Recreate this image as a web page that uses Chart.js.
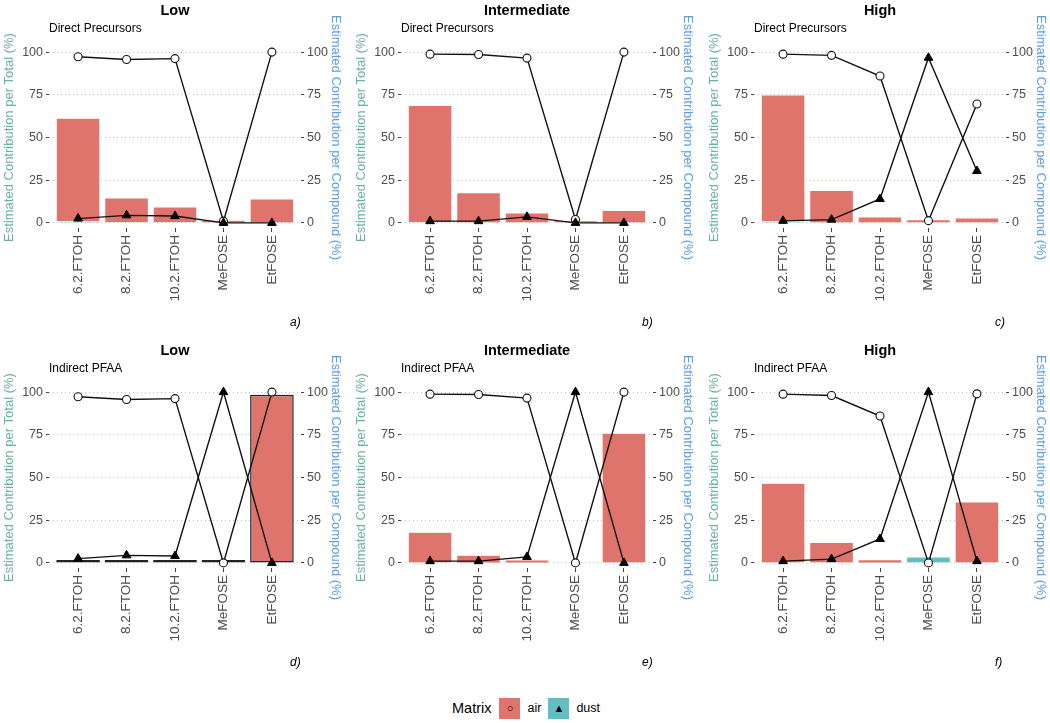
<!DOCTYPE html>
<html>
<head>
<meta charset="utf-8">
<script src="https://cdn.jsdelivr.net/npm/chart.js@4.4.1/dist/chart.umd.min.js"></script>
<style>
  body { margin: 0; background: #fff; width: 1050px; height: 723px; overflow: hidden; position: relative; font-family: "Liberation Sans", Arial, sans-serif; }
  canvas { position: absolute; }
  .legend { position: absolute; top: 697px; left: 452px; height: 22px; display: flex; align-items: center; color: #000; }
  .legend .ttl { font-size: 14.5px; margin-right: 8px; }
  .legend .key { width: 21px; height: 21px; display: flex; align-items: center; justify-content: center; font-size: 11px; color: #000; }
  .legend .lbl { font-size: 12.5px; margin: 0 7px 0 7px; }
</style>
</head>
<body>
<canvas id="pa" width="345" height="340" style="left:0;top:0"></canvas>
<canvas id="pb" width="345" height="340" style="left:352px;top:0"></canvas>
<canvas id="pc" width="345" height="340" style="left:705px;top:0"></canvas>
<canvas id="pd" width="345" height="340" style="left:0;top:340px"></canvas>
<canvas id="pe" width="345" height="340" style="left:352px;top:340px"></canvas>
<canvas id="pf" width="345" height="340" style="left:705px;top:340px"></canvas>
<div class="legend">
  <span class="ttl">Matrix</span>
  <span class="key" style="background:#de746b">&#9675;</span><span class="lbl">air</span>
  <span class="key" style="background:#62bec3">&#9650;</span><span class="lbl">dust</span>
</div>
<script>
const compounds = ['6.2.FTOH', '8.2.FTOH', '10.2.FTOH', 'MeFOSE', 'EtFOSE'];
const yTicks = [0, 25, 50, 75, 100];

// bars: Estimated Contribution per Total (%)
const directLowAir = [60.3, 14.3, 9, 1.5, 14];
const directLowDust = [1, 0.3, 0.3, 0, 0];
const directMidAir = [68.2, 17.5, 5.6, 1.3, 7.2];
const directMidDust = [0.5, 0.2, 0.2, 0, 0];
const directHighAir = [74.1, 18.8, 3.3, 1.9, 2.9];
const directHighDust = [0.8, 0.2, 0.2, 0, 0];
const indirectLowAir = [0.8, 0.5, 0.5, 0.3, 98.5];
const indirectLowDust = [0, 0, 0, 0, 0];
const indirectMidAir = [17.8, 4.3, 1.6, 0, 75.9];
const indirectMidDust = [0.2, 0.1, 0.1, 0, 0];
const indirectHighAir = [46.5, 11.8, 1.8, 0, 35.6];
const indirectHighDust = [0.2, 0.2, 0.1, 3.5, 0];

// lines: Estimated Contribution per Compound (%)
const directLowAirPct = [97.3, 95.7, 96.2, 1, 100];
const directLowDustPct = [2.5, 4.4, 4, 0, 0];
const directMidAirPct = [98.8, 98.6, 96.5, 2, 100];
const directMidDustPct = [1, 1, 3.5, 0, 0];
const directHighAirPct = [98.8, 98.1, 86, 1.3, 69.6];
const directHighDustPct = [1.2, 1.9, 14, 96.7, 30.4];
const indirectLowAirPct = [97.3, 95.7, 96.2, 0, 100];
const indirectLowDustPct = [2.5, 4.4, 4, 100, 0];
const indirectMidAirPct = [98.8, 98.6, 96.5, 0, 100];
const indirectMidDustPct = [1, 1, 3.5, 100, 0];
const indirectHighAirPct = [98.8, 98, 86, 0, 99];
const indirectHighDustPct = [1, 2.2, 14, 100, 1];

Chart.defaults.font.family = '"Liberation Sans", Arial, sans-serif';

const panelText = {
    id: 'panelText',
    afterDraw(chart, args, opts) {
        const { ctx, chartArea } = chart;
        ctx.save();
        ctx.fillStyle = '#000';
        ctx.textBaseline = 'middle';
        ctx.textAlign = 'center';
        ctx.font = 'bold 14.5px "Liberation Sans", Arial, sans-serif';
        ctx.fillText(opts.title, (chartArea.left + chartArea.right) / 2, 11);
        ctx.textAlign = 'left';
        ctx.font = '12px "Liberation Sans", Arial, sans-serif';
        ctx.fillText(opts.subtitle, chartArea.left, 29);
        ctx.font = 'italic 12px "Liberation Sans", Arial, sans-serif';
        ctx.fillText(opts.tag, chartArea.right - 11, 323);
        ctx.restore();
    }
};

const toPoints = arr => arr.map((v, i) => ({ x: i, y: v }));

function desenharPainel(id, title, subtitle, tag, air, dust, airPct, dustPct, outlined) {
    const barBorder = outlined ? '#222' : 'rgba(255,255,255,0.7)';
    const barWidth = outlined ? 1.5 : 0.5;
    new Chart(document.getElementById(id), {
        type: 'bar',
        data: {
            datasets: [
                { type: 'bar', label: 'dust', data: toPoints(dust), yAxisID: 'y', backgroundColor: '#62bec3',
                  borderColor: barBorder, borderWidth: barWidth, borderSkipped: outlined ? false : 'start', order: 3 },
                { type: 'bar', label: 'air', data: toPoints(air), yAxisID: 'y', backgroundColor: '#de746b',
                  borderColor: barBorder, borderWidth: barWidth, borderSkipped: outlined ? false : 'start',
                  minBarLength: outlined ? 3 : 0, order: 3 },
                { type: 'line', label: 'air %', data: toPoints(airPct), yAxisID: 'y2', borderColor: '#111', borderWidth: 1.4,
                  pointStyle: 'circle', pointRadius: 4, pointBackgroundColor: '#fff', pointBorderColor: '#111', pointBorderWidth: 1.1, tension: 0, order: 2 },
                { type: 'line', label: 'dust %', data: toPoints(dustPct), yAxisID: 'y2', borderColor: '#111', borderWidth: 1.4,
                  pointStyle: 'triangle', pointRadius: 5, pointBackgroundColor: '#000', pointBorderColor: '#000', pointBorderWidth: 1, tension: 0, order: 1 }
            ]
        },
        options: {
            responsive: false,
            animation: false,
            devicePixelRatio: 1,
            layout: { padding: { top: 47, left: 0, right: 0, bottom: 0 } },
            datasets: { bar: { barPercentage: 0.9, categoryPercentage: 1 } },
            plugins: {
                legend: { display: false },
                tooltip: { enabled: false },
                panelText: { title: title, subtitle: subtitle, tag: tag }
            },
            scales: {
                x: {
                    type: 'linear', min: -0.6, max: 4.6, stacked: true, offset: false,
                    afterBuildTicks: axis => { axis.ticks = compounds.map((c, i) => ({ value: i })); },
                    afterFit: axis => { axis.height = 112; },
                    grid: { offset: false, drawOnChartArea: false, tickLength: 4, tickColor: '#444' },
                    border: { display: false },
                    ticks: { autoSkip: false, minRotation: 90, maxRotation: 90, padding: 3, color: '#4d4d4d',
                             font: { size: 13.5 }, callback: v => compounds[v] }
                },
                y: {
                    type: 'linear', position: 'left', min: -3, max: 103, stacked: true,
                    afterBuildTicks: axis => { axis.ticks = yTicks.map(v => ({ value: v })); },
                    afterFit: axis => { axis.width = 49; },
                    grid: { color: '#c4c4c4', lineWidth: 1, tickLength: 3, tickColor: '#444' },
                    border: { display: false, dash: [1, 3] },
                    ticks: { padding: 3, color: '#4d4d4d', font: { size: 12.5 } },
                    title: { display: true, text: 'Estimated Contribution per Total (%)', color: '#69b3a2',
                             font: { size: 13 }, padding: { top: 2, bottom: 0 } }
                },
                y2: {
                    type: 'linear', position: 'right', min: -3, max: 103,
                    afterBuildTicks: axis => { axis.ticks = yTicks.map(v => ({ value: v })); },
                    afterFit: axis => { axis.width = 44; },
                    grid: { drawOnChartArea: false, tickLength: 3, tickColor: '#444' },
                    border: { display: false },
                    ticks: { padding: 3, color: '#4d4d4d', font: { size: 12.5 } },
                    title: { display: true, text: 'Estimated Contribution per Compound (%)', color: '#5a9cea',
                             font: { size: 13 }, padding: { top: 2, bottom: 0 } }
                }
            }
        },
        plugins: [panelText]
    });
}

desenharPainel('pa', 'Low', 'Direct Precursors', 'a)', directLowAir, directLowDust, directLowAirPct, directLowDustPct, false);
desenharPainel('pb', 'Intermediate', 'Direct Precursors', 'b)', directMidAir, directMidDust, directMidAirPct, directMidDustPct, false);
desenharPainel('pc', 'High', 'Direct Precursors', 'c)', directHighAir, directHighDust, directHighAirPct, directHighDustPct, false);
desenharPainel('pd', 'Low', 'Indirect PFAA', 'd)', indirectLowAir, indirectLowDust, indirectLowAirPct, indirectLowDustPct, true);
desenharPainel('pe', 'Intermediate', 'Indirect PFAA', 'e)', indirectMidAir, indirectMidDust, indirectMidAirPct, indirectMidDustPct, false);
desenharPainel('pf', 'High', 'Indirect PFAA', 'f)', indirectHighAir, indirectHighDust, indirectHighAirPct, indirectHighDustPct, false);
</script>
</body>
</html>
